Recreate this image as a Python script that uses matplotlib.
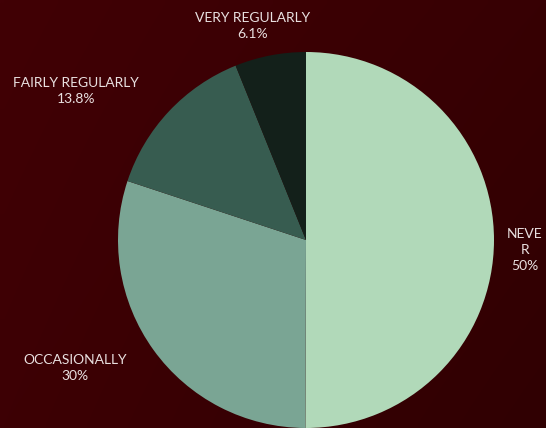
import numpy as np
import matplotlib.pyplot as plt
from matplotlib.colors import to_rgb

# Survey response shares
categories = ["NEVER", "OCCASIONALLY", "FAIRLY REGULARLY", "VERY REGULARLY"]
shares = [50.0, 30.0, 13.8, 6.1]
share_labels = ["50%", "30%", "13.8%", "6.1%"]
slice_colors = ["#b1d9b9", "#7aa594", "#375c50", "#13201a"]

W, H, DPI = 546, 428, 100
fig = plt.figure(figsize=(W / DPI, H / DPI), dpi=DPI)

# Dark red backdrop, slightly darker toward the lower right
bg = fig.add_axes([0, 0, 1, 1])
bg.axis("off")
tl, tr = np.array(to_rgb("#410005")), np.array(to_rgb("#370003"))
bl, br = np.array(to_rgb("#3d0004")), np.array(to_rgb("#300002"))
u = np.linspace(0, 1, 64)[None, :, None]
v = np.linspace(0, 1, 64)[:, None, None]
grad = (1 - v) * ((1 - u) * tl + u * tr) + v * ((1 - u) * bl + u * br)
bg.imshow(grad, aspect="auto", extent=[0, 1, 0, 1], origin="upper",
          interpolation="bilinear")
bg.set_xlim(0, 1)
bg.set_ylim(0, 1)

# Pie, drawn clockwise from 12 o'clock
cx, cy, r = 306, 240, 188
ax = fig.add_axes([(cx - r) / W, (H - cy - r) / H, 2 * r / W, 2 * r / H])
ax.pie(shares, colors=slice_colors, startangle=90, counterclock=False,
       radius=1.0, wedgeprops=dict(edgecolor="none", linewidth=0))
ax.set_xlim(-1, 1)
ax.set_ylim(-1, 1)
ax.set_aspect("equal")
ax.axis("off")

text_color = "#e9e0e0"
font = dict(family=["Lato", "DejaVu Sans"], fontsize=10, color=text_color,
            ha="center", va="center", linespacing=1.4)

def px(x, y):
    return x / W, 1 - y / H

label_pos = {
    "NEVER": (525, 250),
    "OCCASIONALLY": (75, 368),
    "FAIRLY REGULARLY": (76, 91),
    "VERY REGULARLY": (253, 26),
}
for name, pct in zip(categories, share_labels):
    text = "NEVE\nR\n" + pct if name == "NEVER" else name + "\n" + pct
    fig.text(*px(*label_pos[name]), text, **font)

fig.savefig("out.png", dpi=DPI, facecolor="#3c0003")
